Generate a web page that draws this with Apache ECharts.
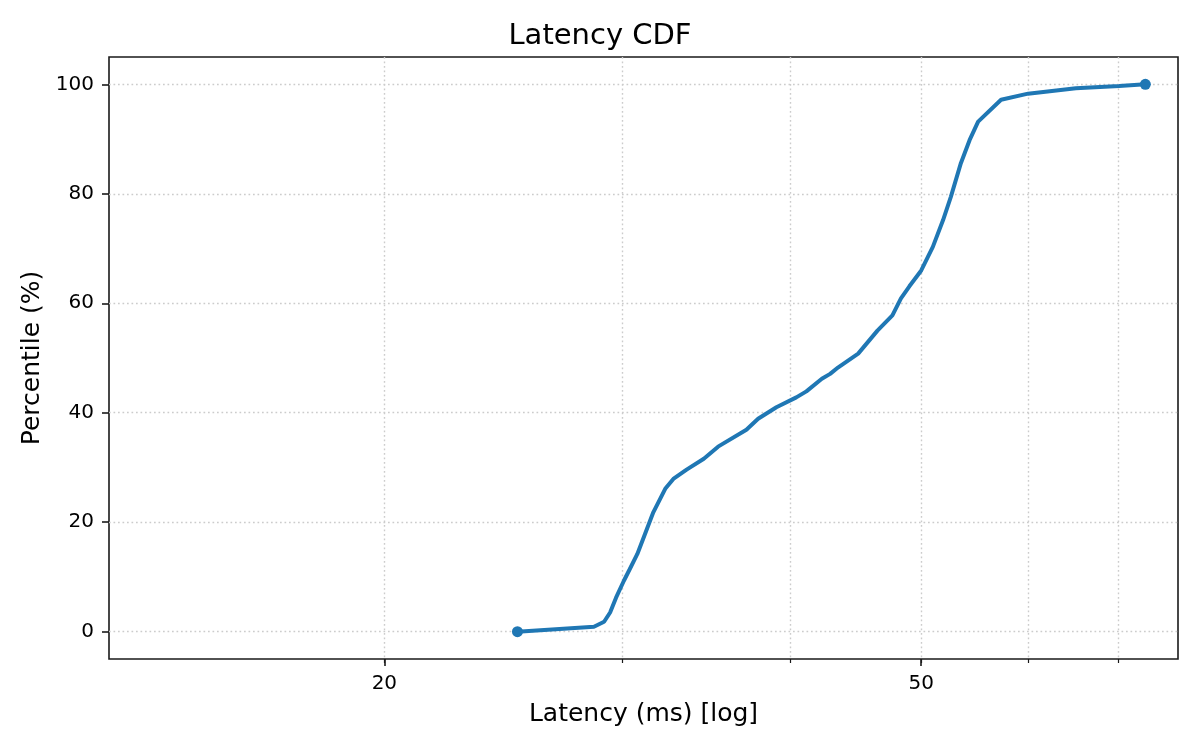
<!DOCTYPE html>
<html>
<head>
<meta charset="utf-8">
<script src="https://cdn.jsdelivr.net/npm/echarts@6/dist/echarts.min.js"></script>
<style>
html,body{margin:0;padding:0;background:#fff;}
#chart{width:1200px;height:750px;}
</style>
</head>
<body>
<div id="chart"></div>
<script>
// ---- data ----
const latencyMs = [25.1, 28.6, 29.1, 29.4, 29.7, 30.1, 30.4, 30.8, 31.2, 31.65, 32.3, 32.75, 33.5, 34.5, 35.35, 37.1, 37.85, 39.05, 40.4, 41.1, 42.2, 42.8, 43.4, 44.9, 46.4, 47.6, 48.3, 49.0, 50.0, 51.0, 51.9, 52.6, 53.5, 54.3, 55.1, 57.3, 60.0, 65.1, 70.1, 73.3];
const percentile = [0, 0.9, 1.8, 3.5, 6.2, 9.3, 11.4, 14.2, 17.8, 21.8, 26.1, 27.9, 29.6, 31.6, 33.8, 36.9, 38.9, 41.0, 42.8, 43.9, 46.2, 47.1, 48.3, 50.8, 55.0, 57.8, 60.9, 63.1, 66.0, 70.3, 75.2, 79.5, 85.6, 89.8, 93.2, 97.2, 98.3, 99.3, 99.7, 100];
const xMajorTicks = [20, 50];
const xAllTicks = [20, 30, 40, 50, 60, 70];
const yTicks = [0, 20, 40, 60, 80, 100];
const xRange = [12.5, 77.5];
const yRange = [-5, 105];

const FONT = 'DejaVu Sans';
const last = latencyMs.length - 1;
const seriesData = latencyMs.map((v, i) => ({
  value: [v, percentile[i]],
  symbol: (i === 0 || i === last) ? 'circle' : 'none'
}));

const gridLine = { show: true, lineStyle: { color: '#cccccc', width: 1.4, type: [1.7, 2.8] } };

const chart = echarts.init(document.getElementById('chart'), null, { renderer: 'canvas' });
chart.setOption({
  animation: false,
  backgroundColor: '#ffffff',
  title: {
    text: 'Latency CDF',
    left: 'center',
    top: 17,
    textStyle: { fontFamily: FONT, fontSize: 29, fontWeight: 'normal', color: '#000' }
  },
  grid: {
    left: 109, right: 22, top: 57, bottom: 91,
    show: true, borderColor: '#1a1a1a', borderWidth: 1.6, backgroundColor: 'transparent'
  },
  xAxis: [
    {
      type: 'log', logBase: 10, min: xRange[0], max: xRange[1],
      position: 'bottom',
      name: 'Latency (ms) [log]', nameLocation: 'middle', nameGap: 43,
      nameTextStyle: { fontFamily: FONT, fontSize: 25, color: '#000' },
      axisLine: { show: false, onZero: false },
      axisTick: { show: true, inside: false, customValues: xMajorTicks, length: 7, lineStyle: { color: '#1a1a1a', width: 1.6 } },
      axisLabel: { show: true, customValues: xMajorTicks, margin: 15, fontFamily: FONT, fontSize: 20, color: '#000' },
      splitLine: { show: false },
      minorTick: { show: false }, minorSplitLine: { show: false }
    },
    {
      type: 'log', logBase: 10, min: xRange[0], max: xRange[1],
      position: 'bottom',
      axisLine: { show: false, onZero: false },
      axisTick: { show: true, inside: false, customValues: xAllTicks, length: 4, lineStyle: { color: '#1a1a1a', width: 1.2 } },
      axisLabel: { show: false },
      splitLine: gridLine,
      minorTick: { show: false }, minorSplitLine: { show: false }
    }
  ],
  yAxis: {
    type: 'value', min: yRange[0], max: yRange[1],
    name: 'Percentile (%)', nameLocation: 'middle', nameGap: 60,
    nameTextStyle: { fontFamily: FONT, fontSize: 25, color: '#000' },
    axisLine: { show: false, onZero: false },
    axisTick: { show: true, inside: false, customValues: yTicks, length: 7, lineStyle: { color: '#1a1a1a', width: 1.6 } },
    axisLabel: { show: true, customValues: yTicks, margin: 15, fontFamily: FONT, fontSize: 20, color: '#000' },
    splitLine: gridLine
  },
  series: [{
    type: 'line',
    xAxisIndex: 0,
    data: seriesData,
    showSymbol: true,
    symbolSize: 11,
    lineStyle: { color: '#1f77b4', width: 4 },
    itemStyle: { color: '#1f77b4' },
    smooth: false,
    z: 5
  }]
});
</script>
</body>
</html>
